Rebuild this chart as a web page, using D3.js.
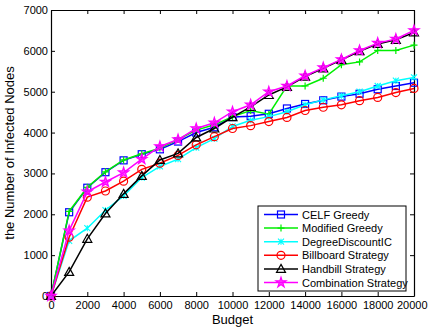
<!DOCTYPE html>
<html><head><meta charset="utf-8">
<script src="https://cdn.jsdelivr.net/npm/d3@7"></script>
<style>body{margin:0;background:#fff;}svg{display:block;font-family:"Liberation Sans",Arial,sans-serif;}</style>
</head><body>
<svg id="c" width="428" height="327"></svg>
<script>
const budgets = [0,1000,2000,3000,4000,5000,6000,7000,8000,9000,10000,11000,12000,13000,14000,15000,16000,17000,18000,19000,20000];
const celfGreedy = [0,2050,2650,3030,3320,3470,3590,3780,4000,4130,4380,4400,4460,4590,4700,4790,4880,4950,5060,5140,5220];
const modifiedGreedy = [0,2070,2660,3040,3330,3480,3620,3830,4060,4190,4390,4540,4450,5140,5140,5330,5660,5730,6010,6010,6140];
const degreeDiscountIC = [0,1350,1660,2100,2450,2900,3170,3350,3630,3850,4150,4300,4390,4510,4680,4800,4900,5000,5140,5270,5350];
const billboard = [0,1440,2420,2570,2810,3100,3250,3440,3700,3900,4100,4170,4270,4370,4540,4620,4680,4780,4860,4980,5080];
const handbill = [0,590,1400,2020,2500,2940,3330,3490,3880,4100,4380,4630,4920,5120,5370,5570,5780,5990,6170,6270,6450];
const combination = [0,1600,2550,2790,3020,3350,3660,3830,4100,4240,4510,4680,5000,5140,5390,5590,5790,6010,6190,6290,6500];
const seriesNames = ["CELF Greedy","Modified Greedy","DegreeDiscountIC","Billboard Strategy","Handbill Strategy","Combination Strategy"];
const xTicks = [0,2000,4000,6000,8000,10000,12000,14000,16000,18000,20000];
const yTicks = [0,1000,2000,3000,4000,5000,6000,7000];

const series = [
  {name:seriesNames[0], values:celfGreedy, color:"#0000ff", marker:"square"},
  {name:seriesNames[1], values:modifiedGreedy, color:"#00ee00", marker:"plus"},
  {name:seriesNames[2], values:degreeDiscountIC, color:"#00ffff", marker:"x"},
  {name:seriesNames[3], values:billboard, color:"#ff0000", marker:"circle"},
  {name:seriesNames[4], values:handbill, color:"#000000", marker:"triangle"},
  {name:seriesNames[5], values:combination, color:"#ff00ff", marker:"star"}
];

const L=51, R=414, T=10, B=296;
const svg = d3.select("#c");
const x = d3.scaleLinear().domain([0,20000]).range([L,R]);
const y = d3.scaleLinear().domain([0,7000]).range([B,T]);

const gx = svg.append("g").attr("transform",`translate(0,${B})`)
  .call(d3.axisBottom(x).tickValues(xTicks).tickFormat(d3.format("d")).tickSizeInner(-4).tickSizeOuter(0).tickPadding(6));
const gy = svg.append("g").attr("transform",`translate(${L},0)`)
  .call(d3.axisLeft(y).tickValues(yTicks).tickFormat(d3.format("d")).tickSizeInner(-4).tickSizeOuter(0).tickPadding(3));
const gxt = svg.append("g").attr("transform",`translate(0,${T})`)
  .call(d3.axisTop(x).tickValues(xTicks).tickFormat("").tickSizeInner(-4).tickSizeOuter(0));
const gyr = svg.append("g").attr("transform",`translate(${R},0)`)
  .call(d3.axisRight(y).tickValues(yTicks).tickFormat("").tickSizeInner(-4).tickSizeOuter(0));
[gx,gy,gxt,gyr].forEach(g=>{
  g.selectAll(".domain").attr("stroke","#000").attr("stroke-width",1.2);
  g.selectAll(".tick line").attr("stroke","#000");
  g.selectAll("text").attr("fill","#000").style("font-size","11px").style("font-family","'Liberation Sans',Arial,sans-serif");
});
gx.selectAll("text").attr("dy","0.6em");
gx.selectAll(".tick").filter(d=>d===20000).select("text").attr("text-anchor","end").attr("x",13);

svg.append("text").attr("x",(L+R)/2).attr("y",324).attr("text-anchor","middle")
  .style("font-size","13px").text("Budget");
svg.append("text").attr("transform",`translate(14,${(T+B)/2}) rotate(-90)`).attr("text-anchor","middle")
  .style("font-size","13px").text("the Number of Infected Nodes");

function drawMarker(g, type, color, cx, cy){
  const s=3.5;
  if(type==="square") g.append("rect").attr("x",cx-s).attr("y",cy-s).attr("width",2*s).attr("height",2*s).attr("fill","none").attr("stroke",color).attr("stroke-width",1.2);
  else if(type==="plus") g.append("path").attr("d",`M${cx-s},${cy}H${cx+s}M${cx},${cy-s}V${cy+s}`).attr("stroke",color).attr("stroke-width",1.2);
  else if(type==="x") g.append("path").attr("d",`M${cx-3},${cy-3}L${cx+3},${cy+3}M${cx-3},${cy+3}L${cx+3},${cy-3}M${cx},${cy-3}V${cy+3}`).attr("stroke",color).attr("stroke-width",1.1);
  else if(type==="circle") g.append("circle").attr("cx",cx).attr("cy",cy).attr("r",s+0.5).attr("fill","none").attr("stroke",color).attr("stroke-width",1.2);
  else if(type==="triangle") g.append("path").attr("d",`M${cx},${cy-4.5}L${cx+4.5},${cy+3.5}L${cx-4.5},${cy+3.5}Z`).attr("fill","none").attr("stroke",color).attr("stroke-width",1.2);
  else if(type==="star") g.append("path").attr("d",d3.symbol().type(d3.symbolStar).size(32)()).attr("transform",`translate(${cx},${cy})`).attr("fill",color).attr("fill-opacity",0.7).attr("stroke",color).attr("stroke-width",1.2);
}

const line = d3.line().x((d,i)=>x(budgets[i])).y(d=>y(d));
series.forEach(s=>{
  const g = svg.append("g");
  g.append("path").datum(s.values).attr("d",line).attr("fill","none").attr("stroke",s.color).attr("stroke-width",1.5);
  s.values.forEach((v,i)=>drawMarker(g,s.marker,s.color,x(budgets[i]),y(v)));
});

const lg = svg.append("g");
lg.append("rect").attr("x",258).attr("y",206).attr("width",148).attr("height",85).attr("fill","#fff").attr("stroke","#000").attr("stroke-width",1);
series.forEach((s,i)=>{
  const yy = 214.5 + i*13.6;
  lg.append("line").attr("x1",264).attr("x2",298).attr("y1",yy).attr("y2",yy).attr("stroke",s.color).attr("stroke-width",1.5);
  drawMarker(lg,s.marker,s.color,281,yy);
  lg.append("text").attr("x",302).attr("y",yy+4).style("font-size","11px").attr("fill","#000").text(s.name);
});
</script>
</body></html>
